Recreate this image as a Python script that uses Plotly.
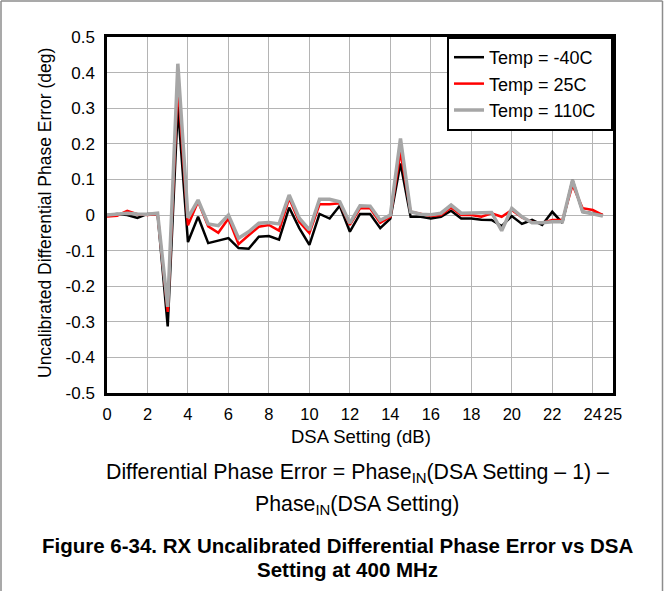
import plotly.graph_objects as go

# DSA attenuation setting (dB), 0.5 dB steps
dsa_db = [i * 0.5 for i in range(50)]

# Uncalibrated differential phase error (deg) per temperature
phase_m40 = [0.000, 0.003, 0.000, -0.008, 0.003, 0.003, -0.313, 0.305, -0.076, -0.005,
             -0.079, -0.073, -0.065, -0.093, -0.095, -0.061, -0.059, -0.069, 0.021, -0.037,
             -0.084, 0.003, -0.010, 0.026, -0.047, 0.003, 0.003, -0.037, -0.010, 0.145,
             -0.005, -0.005, -0.010, -0.005, 0.012, -0.010, -0.010, -0.013, -0.014, -0.031,
             -0.003, -0.025, -0.014, -0.028, 0.009, -0.022, 0.098, 0.009, 0.004, 0.000]
phase_25 = [-0.004, -0.002, 0.012, 0.002, 0.000, 0.003, -0.272, 0.369, -0.029, 0.038,
            -0.032, -0.050, -0.010, -0.082, -0.057, -0.033, -0.028, -0.044, 0.047, -0.019,
            -0.051, 0.030, 0.030, 0.033, -0.028, 0.019, 0.019, -0.022, -0.005, 0.177,
            0.009, 0.003, -0.003, 0.000, 0.021, 0.000, 0.000, -0.005, 0.005, -0.005,
            0.014, -0.007, -0.020, -0.022, -0.014, -0.014, 0.084, 0.019, 0.014, 0.000]
phase_110 = [0.000, 0.002, 0.005, 0.003, 0.002, 0.005, -0.258, 0.425, -0.008, 0.042,
             -0.025, -0.030, 0.000, -0.065, -0.047, -0.023, -0.021, -0.025, 0.056, -0.009,
             -0.042, 0.044, 0.044, 0.037, -0.023, 0.026, 0.025, -0.015, 0.000, 0.215,
             0.009, 0.002, 0.001, 0.005, 0.028, 0.005, 0.005, 0.007, 0.007, -0.044,
             0.019, -0.005, -0.022, -0.022, -0.019, -0.019, 0.098, 0.009, 0.004, -0.003]

x_ticks = [0, 2, 4, 6, 8, 10, 12, 14, 16, 18, 20, 22, 24, 25]
y_ticks = [-0.5, -0.4, -0.3, -0.2, -0.1, 0, 0.1, 0.2, 0.3, 0.4, 0.5]
y_tick_text = ["-0.5", "-0.4", "-0.3", "-0.2", "-0.1", "0", "0.1", "0.2", "0.3", "0.4", "0.5"]

FONT = "Liberation Sans, Arial, sans-serif"
PAD = "\u00a0\u00a0"  # right padding inside the legend box

fig = go.Figure()
fig.add_trace(go.Scatter(x=dsa_db, y=phase_m40, mode="lines", name="Temp = -40C" + PAD,
                         line=dict(color="#000000", width=2.5)))
fig.add_trace(go.Scatter(x=dsa_db, y=phase_25, mode="lines", name="Temp = 25C" + PAD,
                         line=dict(color="#ff0000", width=2.5)))
fig.add_trace(go.Scatter(x=dsa_db, y=phase_110, mode="lines", name="Temp = 110C" + PAD,
                         line=dict(color="#a6a6a6", width=3.5)))

fig.update_layout(
    width=664, height=592,
    margin=dict(l=107, r=51, t=37, b=199),
    paper_bgcolor="white", plot_bgcolor="white",
    font=dict(family=FONT, color="black", size=17),
    showlegend=True,
    legend=dict(x=1, y=1, xanchor="right", yanchor="top",
                bordercolor="black", borderwidth=2, bgcolor="white",
                font=dict(size=18, family=FONT), tracegroupgap=0,
                traceorder="normal", itemwidth=30),
)

fig.update_xaxes(range=[0, 25], tickmode="array", tickvals=x_ticks,
                 ticktext=[str(t) for t in x_ticks], tickangle=0,
                 showgrid=True, gridcolor="#b4b4b4", gridwidth=1,
                 showline=True, linecolor="black", linewidth=2.5, mirror=True,
                 ticks="", zeroline=False, tickfont=dict(size=16.5),
                 ticklabelstandoff=4)
fig.update_yaxes(range=[-0.5, 0.5], tickmode="array", tickvals=y_ticks,
                 ticktext=y_tick_text,
                 showgrid=True, gridcolor="#b4b4b4", gridwidth=1,
                 showline=True, linecolor="black", linewidth=2.5, mirror=True,
                 ticks="", zeroline=False, tickfont=dict(size=17),
                 ticklabelstandoff=6)

def px_y(py):
    return (393.5 - py) / 357.0

def px_x(px):
    return (px - 107.0) / 506.0

annos = [
    dict(text="DSA Setting (dB)", x=px_x(361), y=px_y(437), size=18.5, angle=0),
    dict(text="Uncalibrated Differential Phase Error (deg)", x=px_x(45), y=px_y(213),
         size=17.5, angle=-90),
    dict(text="Differential Phase Error = Phase<sub>IN</sub>(DSA Setting \u2013 1) \u2013",
         x=px_x(357), y=px_y(474), size=21.3, angle=0),
    dict(text="Phase<sub>IN</sub>(DSA Setting)", x=px_x(357), y=px_y(506),
         size=21.3, angle=0),
    dict(text="<b>Figure 6-34. RX Uncalibrated Differential Phase Error vs DSA</b>",
         x=px_x(337), y=px_y(546), size=20.5, angle=0),
    dict(text="<b>Setting at 400 MHz</b>", x=px_x(347), y=px_y(570),
         size=20.5, angle=0),
]
for a in annos:
    fig.add_annotation(text=a["text"], x=a["x"], y=a["y"], xref="paper", yref="paper",
                       xanchor="center", yanchor="middle", showarrow=False,
                       textangle=a["angle"], font=dict(size=a["size"], family=FONT,
                                                       color="black"))

# Page frame lines (left, top, right)
frame = dict(color="#8c8c8c", width=1.5)
fig.add_shape(type="line", xref="paper", yref="paper",
              x0=px_x(1), x1=px_x(1), y0=px_y(592), y1=px_y(0.5), line=frame)
fig.add_shape(type="line", xref="paper", yref="paper",
              x0=px_x(1), x1=px_x(662.5), y0=px_y(0.5), y1=px_y(0.5), line=frame)
fig.add_shape(type="line", xref="paper", yref="paper",
              x0=px_x(662.5), x1=px_x(662.5), y0=px_y(592), y1=px_y(0.5), line=frame)

fig.write_html("out.html")
